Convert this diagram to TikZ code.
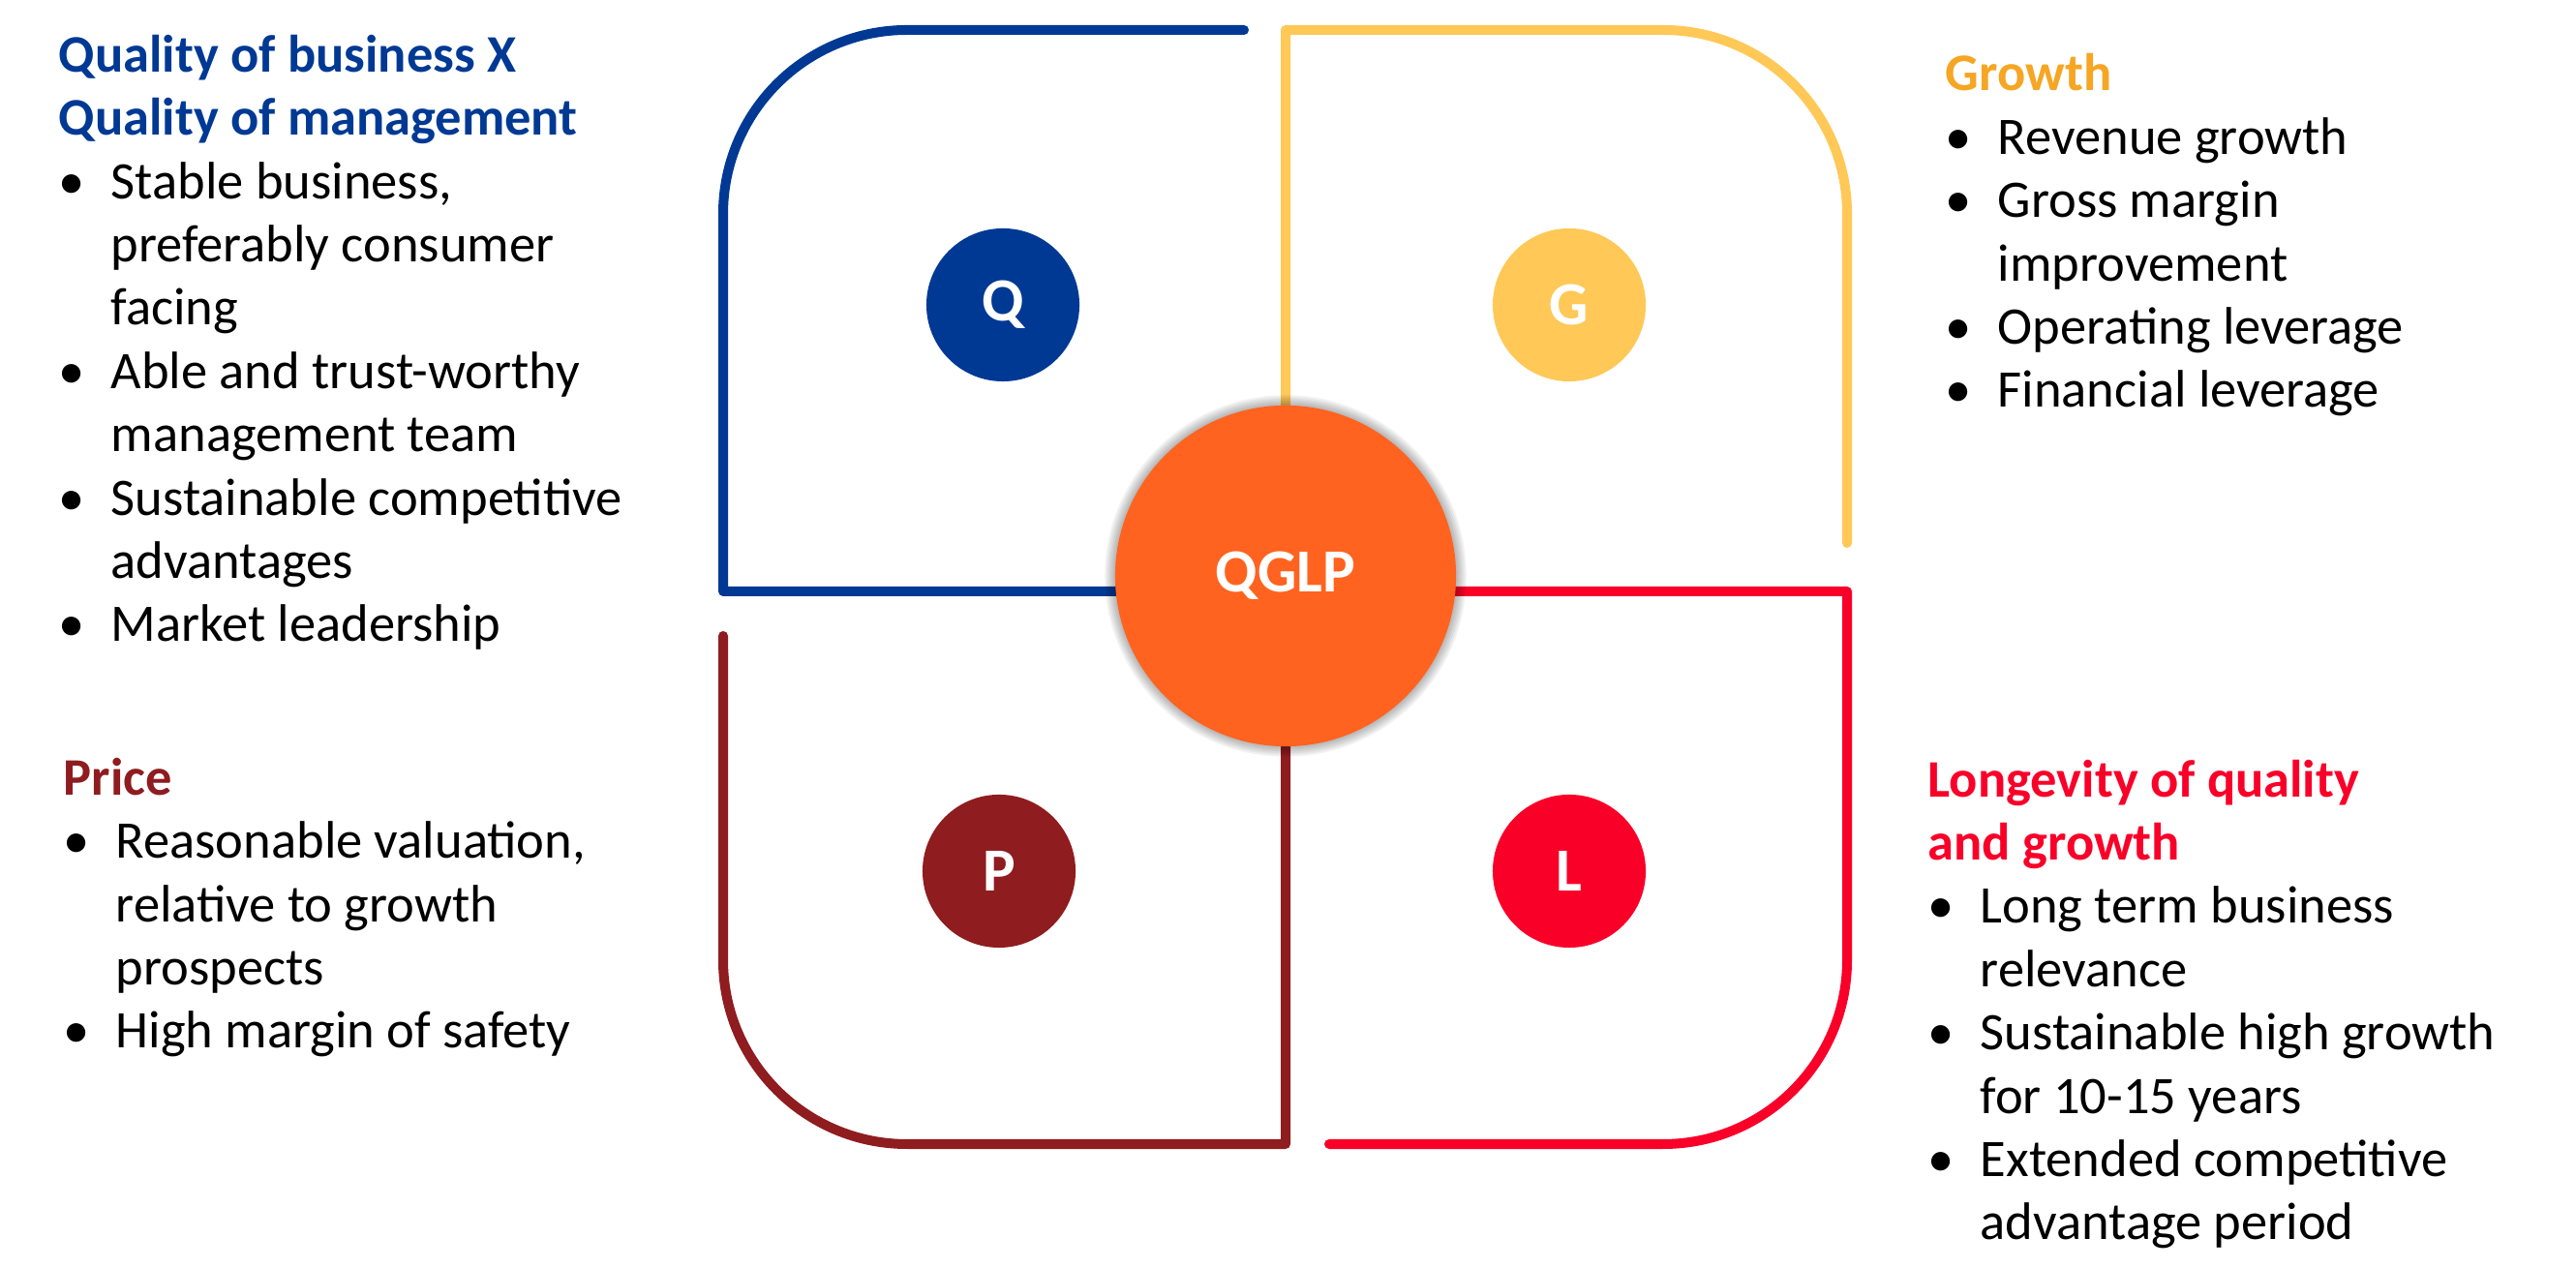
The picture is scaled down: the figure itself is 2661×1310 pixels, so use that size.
\documentclass[tikz,border=0pt]{standalone}
\usepackage{fontspec}
\setmainfont{Carlito}

\definecolor{qbleu}{RGB}{0,57,148}
\definecolor{gjaune}{RGB}{255,200,87}
\definecolor{gtitre}{RGB}{245,166,35}
\definecolor{pbrun}{RGB}{143,28,31}
\definecolor{lrouge}{RGB}{249,0,41}
\definecolor{corange}{RGB}{255,99,31}

\newcommand{\puce}{\makebox[0.54cm][l]{•}}
\newcommand{\suite}{\hspace*{0.54cm}}

\begin{document}
\begin{tikzpicture}[x=0.01cm, y=0.01cm]
			\tikzset{trait/.style={line width=2.85pt, line cap=round, line join=round}, pastille/.style={circle, inner sep=0pt, minimum size=1.58cm, text=white, font=\fontsize{18}{21}\selectfont\bfseries}, bloc/.style={anchor=base west, align=left, inner sep=0pt, font=\fontsize{15.5}{18.6}\selectfont}};

			\useasboundingbox (0,0) rectangle (2661,1310);

			\draw[trait, qbleu]  (1285,1279) -- (937,1279) arc[start angle=90, end angle=180, radius=190] -- (747,699) -- (1328,699);
			\draw[trait, gjaune] (1328,715) -- (1328,1279) -- (1718,1279) arc[start angle=90, end angle=0, radius=190] -- (1908,749);
			\draw[trait, lrouge] (1328,699) -- (1908,699) -- (1908,318) arc[start angle=0, end angle=-90, radius=190] -- (1373,128);
			\draw[trait, pbrun]  (747,653) -- (747,318) arc[start angle=180, end angle=270, radius=190] -- (1328,128) -- (1328,715);

			\foreach \r in {1,...,6}
				\fill[black, opacity=0.05] (1328,715) circle[radius=176+1.8*\r];

			\node[pastille, fill=corange, minimum size=3.52cm] (qglp) at (1328, 715) {QGLP};
			\node[pastille, fill=qbleu]  (q) at (1036, 995) {Q};
			\node[pastille, fill=gjaune] (g) at (1621, 995) {G};
			\node[pastille, fill=pbrun]  (p) at (1032, 410) {P};
			\node[pastille, fill=lrouge] (l) at (1621, 410) {L};

			\node[bloc] (qtexte) at (60,647) {\textcolor{qbleu}{\bfseries Quality of business X}\\
				\textcolor{qbleu}{\bfseries Quality of management}\\
				\puce Stable business,\\
				\suite preferably consumer\\
				\suite facing\\
				\puce Able and trust-worthy\\
				\suite management team\\
				\puce Sustainable competitive\\
				\suite advantages\\
				\puce Market leadership};

			\node[bloc] (gtexte) at (2009,889) {\textcolor{gtitre}{\bfseries Growth}\\
				\puce Revenue growth\\
				\puce Gross margin\\
				\suite improvement\\
				\puce Operating leverage\\
				\puce Financial leverage};

			\node[bloc] (ptexte) at (65,227) {\textcolor{pbrun}{\bfseries Price}\\
				\puce Reasonable valuation,\\
				\suite relative to growth\\
				\suite prospects\\
				\puce High margin of safety};

			\node[bloc] (ltexte) at (1991,29) {\textcolor{lrouge}{\bfseries Longevity of quality}\\
				\textcolor{lrouge}{\bfseries and growth}\\
				\puce Long term business\\
				\suite relevance\\
				\puce Sustainable high growth\\
				\suite for 10-15 years\\
				\puce Extended competitive\\
				\suite advantage period};

		\end{tikzpicture}
\end{document}
